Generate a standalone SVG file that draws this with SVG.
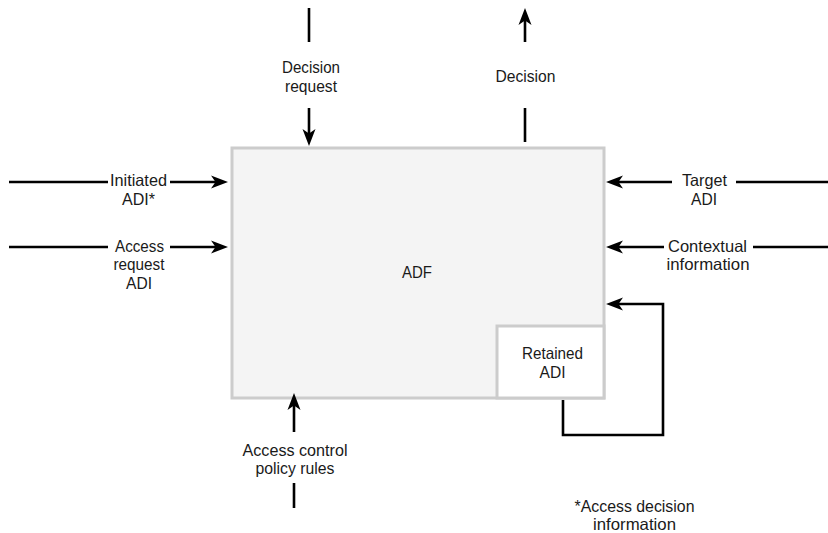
<svg xmlns="http://www.w3.org/2000/svg" width="828" height="533" viewBox="0 0 828 533">
  <style>
    .box { fill: #f4f4f4; stroke: #cccccc; stroke-width: 3; }
    .sub { fill: #ffffff; stroke: #cccccc; stroke-width: 3; }
    .wire { fill: none; stroke: #000000; stroke-width: 2.6; }
    .arrow { marker-end: url(#head); }
    text { font-family: "Liberation Sans", Arial, sans-serif; font-size: 16.5px; fill: #1a1a1a; text-anchor: middle; }
  </style>
  <defs>
    <!-- concave arrowhead; path end sits 8px behind the tip -->
    <marker id="head" markerUnits="userSpaceOnUse" orient="auto" refX="0" refY="0" markerWidth="20" markerHeight="14" overflow="visible">
      <path d="M8,0 L-9,-6.5 L-4.5,0 L-9,6.5 Z" fill="#000000"/>
    </marker>
  </defs>

  <!-- ADF node with the retained ADI store in its corner -->
  <g id="adf">
    <rect class="box" x="232" y="148" width="372" height="250"/>
    <text x="417" y="278" textLength="30" lengthAdjust="spacingAndGlyphs">ADF</text>
  </g>
  <g id="retained-adi">
    <rect class="sub" x="497" y="326" width="107" height="72"/>
    <text x="552.5" y="359" textLength="61" lengthAdjust="spacingAndGlyphs">Retained</text>
    <text x="552.5" y="378" textLength="26" lengthAdjust="spacingAndGlyphs">ADI</text>
  </g>

  <!-- flows in and out of the ADF -->
  <g id="connectors">
    <!-- decision request (top, inbound) -->
    <path class="wire" d="M309,8 L309,42"/>
    <path class="wire arrow" d="M309,108 L309,138"/>
    <!-- decision (top, outbound) -->
    <path class="wire" d="M525,108 L525,142"/>
    <path class="wire arrow" d="M525,42 L525,16"/>
    <!-- initiated ADI -->
    <path class="wire" d="M9,182 L108,182"/>
    <path class="wire arrow" d="M170,182 L220,182"/>
    <!-- access request ADI -->
    <path class="wire" d="M9,247 L108,247"/>
    <path class="wire arrow" d="M170,247 L220,247"/>
    <!-- target ADI -->
    <path class="wire" d="M828,182 L736,182"/>
    <path class="wire arrow" d="M672,182 L614,182"/>
    <!-- contextual information -->
    <path class="wire" d="M828,247 L753,247"/>
    <path class="wire arrow" d="M664,247 L614,247"/>
    <!-- retained ADI fed back into the ADF -->
    <path class="wire arrow" d="M563,400 L563,435 L663,435 L663,304 L614,304"/>
    <!-- access control policy rules (bottom, inbound) -->
    <path class="wire" d="M294,508 L294,483"/>
    <path class="wire arrow" d="M294,432 L294,401"/>
  </g>

  <!-- flow labels -->
  <g id="label-decision-request">
    <text x="311" y="73" textLength="58" lengthAdjust="spacingAndGlyphs">Decision</text>
    <text x="311" y="91.5" textLength="52" lengthAdjust="spacingAndGlyphs">request</text>
  </g>
  <g id="label-decision">
    <text x="525.5" y="82" textLength="60" lengthAdjust="spacingAndGlyphs">Decision</text>
  </g>
  <g id="label-initiated-adi">
    <text x="138.5" y="186" textLength="57" lengthAdjust="spacingAndGlyphs">Initiated</text>
    <text x="138.5" y="204.5" textLength="33" lengthAdjust="spacingAndGlyphs">ADI*</text>
  </g>
  <g id="label-access-request-adi">
    <text x="139.5" y="251.5" textLength="49" lengthAdjust="spacingAndGlyphs">Access</text>
    <text x="139" y="270" textLength="51" lengthAdjust="spacingAndGlyphs">request</text>
    <text x="139" y="289" textLength="26" lengthAdjust="spacingAndGlyphs">ADI</text>
  </g>
  <g id="label-target-adi">
    <text x="704.5" y="186" textLength="45" lengthAdjust="spacingAndGlyphs">Target</text>
    <text x="704" y="204.5" textLength="26" lengthAdjust="spacingAndGlyphs">ADI</text>
  </g>
  <g id="label-contextual-information">
    <text x="707.5" y="251.5" textLength="79" lengthAdjust="spacingAndGlyphs">Contextual</text>
    <text x="708" y="270" textLength="83" lengthAdjust="spacingAndGlyphs">information</text>
  </g>
  <g id="label-access-control-policy-rules">
    <text x="295" y="455.5" textLength="105" lengthAdjust="spacingAndGlyphs">Access control</text>
    <text x="295" y="474" textLength="79" lengthAdjust="spacingAndGlyphs">policy rules</text>
  </g>
  <g id="footnote">
    <text x="634.5" y="511.5" textLength="120" lengthAdjust="spacingAndGlyphs">*Access decision</text>
    <text x="634.5" y="530" textLength="83" lengthAdjust="spacingAndGlyphs">information</text>
  </g>
</svg>
